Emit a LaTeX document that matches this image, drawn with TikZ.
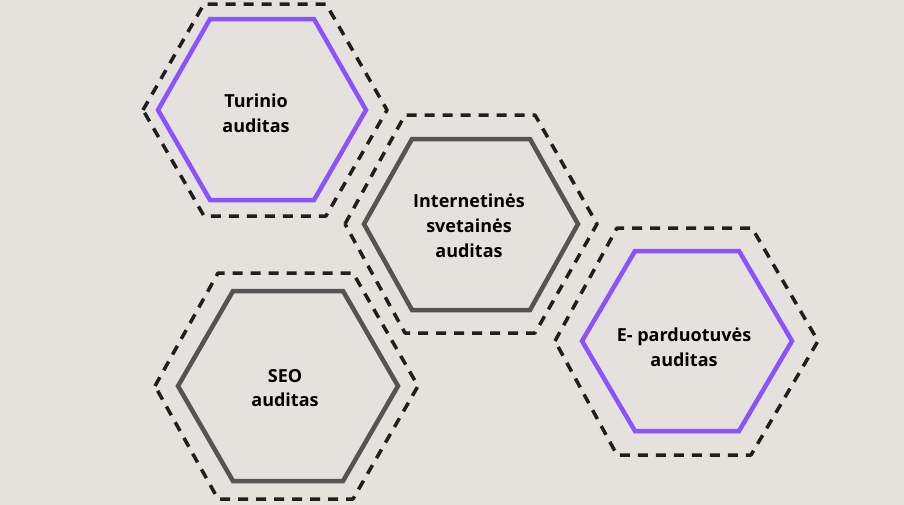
\documentclass[tikz,border=0pt]{standalone}
\usepackage{fontspec}
\newfontfamily\lblfont{Open Sans}
\definecolor{bgc}{HTML}{E5E2DE}
\definecolor{purp}{HTML}{8C52FF}
\definecolor{grayl}{HTML}{545454}
\definecolor{dashc}{HTML}{1F1F1F}
\tikzset{
  inhexp/.style={draw=purp, line width=4.5pt, line join=miter},
  inhexg/.style={draw=grayl, line width=4.5pt, line join=miter},
  outhex/.style={draw=dashc, line width=3.5pt, dash pattern=on 10pt off 8pt, line join=round},
  lbl/.style={align=center, font=\lblfont\bfseries\fontsize{18}{24.8}\selectfont, text=black, inner sep=0pt}
}
\begin{document}
\begin{tikzpicture}[x=1pt,y=-1pt]
\useasboundingbox (0,0) rectangle (904,504);
\fill[bgc] (-5,-5) rectangle (909,509);
% Hexagon 1
\draw[outhex] (143,110) -- (204,4) -- (326,4) -- (387,110) -- (326,216) -- (204,216) -- cycle;
\draw[inhexp] (158,110) -- (210,19) -- (314,19) -- (366,110) -- (314,200) -- (210,200) -- cycle;
\node[lbl] (t1) at (256,113) {Turinio\\auditas};
% Hexagon 2
\draw[outhex] (345,224) -- (405,115) -- (535,115) -- (597,224) -- (535,333) -- (405,333) -- cycle;
\draw[inhexg] (364,224) -- (412,139) -- (530,139) -- (578,224) -- (530,310) -- (412,310) -- cycle;
\node[lbl] (t2) at (469,226) {Internetinės\\svetainės\\auditas};
% Hexagon 3
\draw[outhex] (155,386) -- (218,273) -- (353,273) -- (418,386) -- (353,499) -- (218,499) -- cycle;
\draw[inhexg] (178,386) -- (233,291) -- (343,291) -- (398,386) -- (343,481) -- (233,481) -- cycle;
\node[lbl] (t3) at (285,388) {SEO\\auditas};
% Hexagon 4
\draw[outhex] (555,341) -- (617,228) -- (752,228) -- (818,341) -- (751,455) -- (617,455) -- cycle;
\draw[inhexp] (582,341) -- (635,251) -- (739,251) -- (792,341) -- (739,431) -- (635,431) -- cycle;
\node[lbl] (t4) at (684,347) {E- parduotuvės\\auditas};
\end{tikzpicture}
\end{document}
